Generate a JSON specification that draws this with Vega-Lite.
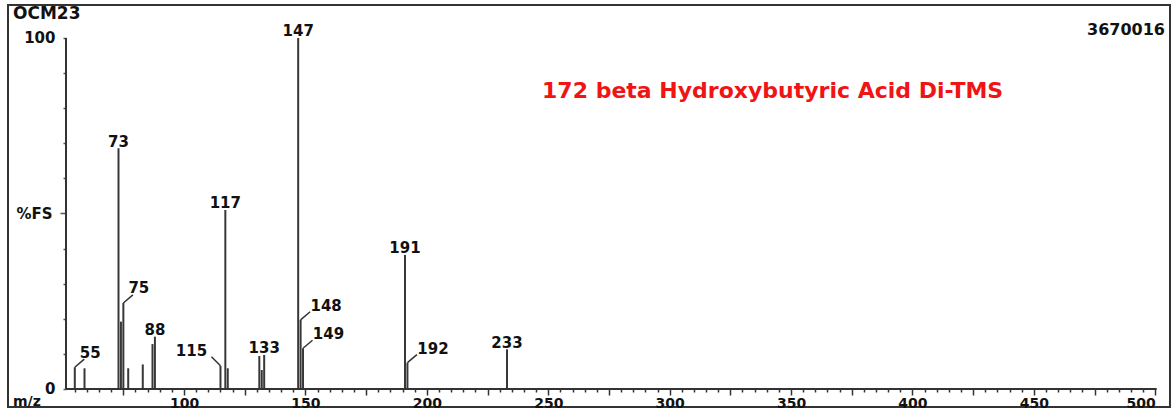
{
  "$schema": "https://vega.github.io/schema/vega-lite/v6.json",
  "width": 1162,
  "height": 402,
  "autosize": "none",
  "padding": {"left": 8, "top": 5, "right": 4, "bottom": 4},
  "background": "white",
  "config": {"view": {"stroke": "#333", "strokeWidth": 2}},
  "resolve": {"axis": {"x": "independent"}},
  "data": {"values": [
    {"mz": 55, "pct": 6.2, "label": "55"},
    {"mz": 59, "pct": 5.9, "label": ""},
    {"mz": 73, "pct": 68.6, "label": "73"},
    {"mz": 74, "pct": 19.2, "label": ""},
    {"mz": 75, "pct": 24.5, "label": "75"},
    {"mz": 77, "pct": 5.9, "label": ""},
    {"mz": 83, "pct": 7.0, "label": ""},
    {"mz": 87, "pct": 12.8, "label": ""},
    {"mz": 88, "pct": 14.9, "label": "88"},
    {"mz": 115, "pct": 6.6, "label": "115"},
    {"mz": 117, "pct": 51.0, "label": "117"},
    {"mz": 118, "pct": 5.9, "label": ""},
    {"mz": 131, "pct": 9.4, "label": ""},
    {"mz": 132, "pct": 5.4, "label": ""},
    {"mz": 133, "pct": 9.7, "label": "133"},
    {"mz": 147, "pct": 100, "label": "147"},
    {"mz": 148, "pct": 19.7, "label": "148"},
    {"mz": 149, "pct": 11.6, "label": "149"},
    {"mz": 191, "pct": 38.2, "label": "191"},
    {"mz": 192, "pct": 7.5, "label": "192"},
    {"mz": 233, "pct": 11.3, "label": "233"}
  ]},
  "layer": [
    {
      "mark": {"type": "rule", "strokeWidth": 2, "color": "#383838"},
      "encoding": {
        "x": {"field": "mz", "type": "quantitative",
          "scale": {"domain": [27.49, 506.07], "nice": false, "zero": false},
          "axis": {"orient": "bottom", "offset": -18, "domain": false, "grid": false, "title": null, "labels": false,
            "values": [55,60,65,70,75,80,85,90,95,100,105,110,115,120,125,130,135,140,145,150,155,160,165,170,175,180,185,190,195,200,205,210,215,220,225,230,235,240,245,250,255,260,265,270,275,280,285,290,295,300,305,310,315,320,325,330,335,340,345,350,355,360,365,370,375,380,385,390,395,400,405,410,415,420,425,430,435,440,445,450,455,460,465,470,475,480,485,490,495,500],
            "tickSize": {"condition": {"test": "datum.value % 25 === 0", "value": 6}, "value": 3},
            "tickColor": "#333", "tickWidth": 1.5}},
        "y": {"field": "pct", "type": "quantitative",
          "scale": {"domain": [-5.13, 109.4], "nice": false, "zero": false},
          "axis": {"orient": "left", "offset": -58, "domain": false, "grid": false, "title": null,
            "values": [0,10,20,30,40,50,60,70,80,90,100],
            "tickSize": {"condition": {"test": "datum.value === 50", "value": 6}, "value": 3},
            "tickColor": "#555", "tickWidth": 1.5,
            "labelExpr": "datum.value === 100 ? '100' : datum.value === 50 ? '%FS' : datum.value === 0 ? '0' : ''",
            "labelPadding": 8, "labelOverlap": false, "labelFlush": false,
            "labelFont": "DejaVu Sans", "labelFontWeight": "bold", "labelFontSize": 15, "labelColor": "#111"}},
        "y2": {"datum": 0}
      }
    },
    {
      "data": {"values": [{}]},
      "mark": {"type": "rule", "strokeWidth": 2, "color": "#333"},
      "encoding": {"x": {"datum": 51.38, "axis": null}, "y": {"datum": 0}, "y2": {"datum": 100}}
    },
    {
      "data": {"values": [{}]},
      "mark": {"type": "rule", "strokeWidth": 2, "color": "#333"},
      "encoding": {"y": {"datum": 0}, "x": {"datum": 51.38, "axis": null}, "x2": {"datum": 500.6}}
    },
    {
      "transform": [{"filter": {"field": "label", "oneOf": ["73", "88", "117", "133", "147", "191", "233"]}}],
      "mark": {"type": "text", "align": "center", "baseline": "alphabetic", "dy": -1.5, "fontSize": 15, "font": "DejaVu Sans", "fontWeight": "bold", "color": "#111"},
      "encoding": {
        "x": {"field": "mz", "type": "quantitative",
          "axis": {"orient": "bottom", "offset": -18, "domain": false, "grid": false, "ticks": false, "title": null,
            "values": [100, 150, 200, 250, 300, 350, 400, 450, 500],
            "labelPadding": 7, "labelFlush": 20, "labelOverlap": false, "labelBound": false,
            "labelFont": "DejaVu Sans", "labelFontWeight": "bold", "labelFontSize": 14, "labelColor": "#111"}},
        "y": {"field": "pct", "type": "quantitative"},
        "text": {"field": "label"}}
    },
    {
      "transform": [{"filter": {"field": "label", "oneOf": ["148", "149", "192"]}}],
      "mark": {"type": "text", "align": "center", "baseline": "alphabetic", "dx": 25.5, "dy": -9, "fontSize": 15, "font": "DejaVu Sans", "fontWeight": "bold", "color": "#111"},
      "encoding": {"x": {"field": "mz", "type": "quantitative", "axis": null}, "y": {"field": "pct", "type": "quantitative"}, "text": {"field": "label"}}
    },
    {
      "transform": [{"filter": {"field": "label", "oneOf": ["55", "75"]}}],
      "mark": {"type": "text", "align": "center", "baseline": "alphabetic", "dx": 15.5, "dy": -9.5, "fontSize": 15, "font": "DejaVu Sans", "fontWeight": "bold", "color": "#111"},
      "encoding": {"x": {"field": "mz", "type": "quantitative", "axis": null}, "y": {"field": "pct", "type": "quantitative"}, "text": {"field": "label"}}
    },
    {
      "transform": [{"filter": {"field": "label", "oneOf": ["115"]}}],
      "mark": {"type": "text", "align": "center", "baseline": "alphabetic", "dx": -29, "dy": -10, "fontSize": 15, "font": "DejaVu Sans", "fontWeight": "bold", "color": "#111"},
      "encoding": {"x": {"field": "mz", "type": "quantitative", "axis": null}, "y": {"field": "pct", "type": "quantitative"}, "text": {"field": "label"}}
    },
    {
      "transform": [{"filter": {"field": "label", "oneOf": ["55", "75", "148", "149", "192"]}}],
      "mark": {"type": "point", "shape": "M0,0L1,-0.85", "size": 361, "filled": false, "stroke": "#333", "strokeWidth": 1.5, "opacity": 1},
      "encoding": {"x": {"field": "mz", "type": "quantitative", "axis": null}, "y": {"field": "pct", "type": "quantitative"}}
    },
    {
      "transform": [{"filter": {"field": "label", "oneOf": ["115"]}}],
      "mark": {"type": "point", "shape": "M0,0L-1,-1", "size": 324, "filled": false, "stroke": "#333", "strokeWidth": 1.5, "opacity": 1},
      "encoding": {"x": {"field": "mz", "type": "quantitative", "axis": null}, "y": {"field": "pct", "type": "quantitative"}}
    },
    {
      "data": {"values": [{"t": "172 beta Hydroxybutyric Acid Di-TMS"}]},
      "mark": {"type": "text", "align": "center", "baseline": "middle", "fontSize": 22, "font": "DejaVu Sans", "fontWeight": "bold", "color": "#f01414"},
      "encoding": {"x": {"datum": 342.4, "axis": null}, "y": {"datum": 84.9}, "text": {"field": "t"}}
    },
    {
      "data": {"values": [{"t": "3670016"}]},
      "mark": {"type": "text", "align": "right", "baseline": "middle", "fontSize": 16, "font": "DejaVu Sans", "fontWeight": "bold", "color": "#111"},
      "encoding": {"x": {"datum": 504.0, "axis": null}, "y": {"datum": 102.3}, "text": {"field": "t"}}
    },
    {
      "data": {"values": [{"t": "OCM23"}]},
      "mark": {"type": "text", "align": "left", "baseline": "middle", "fontSize": 17, "font": "DejaVu Sans", "fontWeight": "bold", "color": "#111"},
      "encoding": {"x": {"datum": 29.55, "axis": null}, "y": {"datum": 106.7}, "text": {"field": "t"}}
    },
    {
      "data": {"values": [{"t": "m/z"}]},
      "mark": {"type": "text", "align": "left", "baseline": "middle", "fontSize": 14, "font": "DejaVu Sans", "fontWeight": "bold", "color": "#111"},
      "encoding": {"x": {"datum": 29.55, "axis": null}, "y": {"datum": -3.7}, "text": {"field": "t"}}
    }
  ]
}
